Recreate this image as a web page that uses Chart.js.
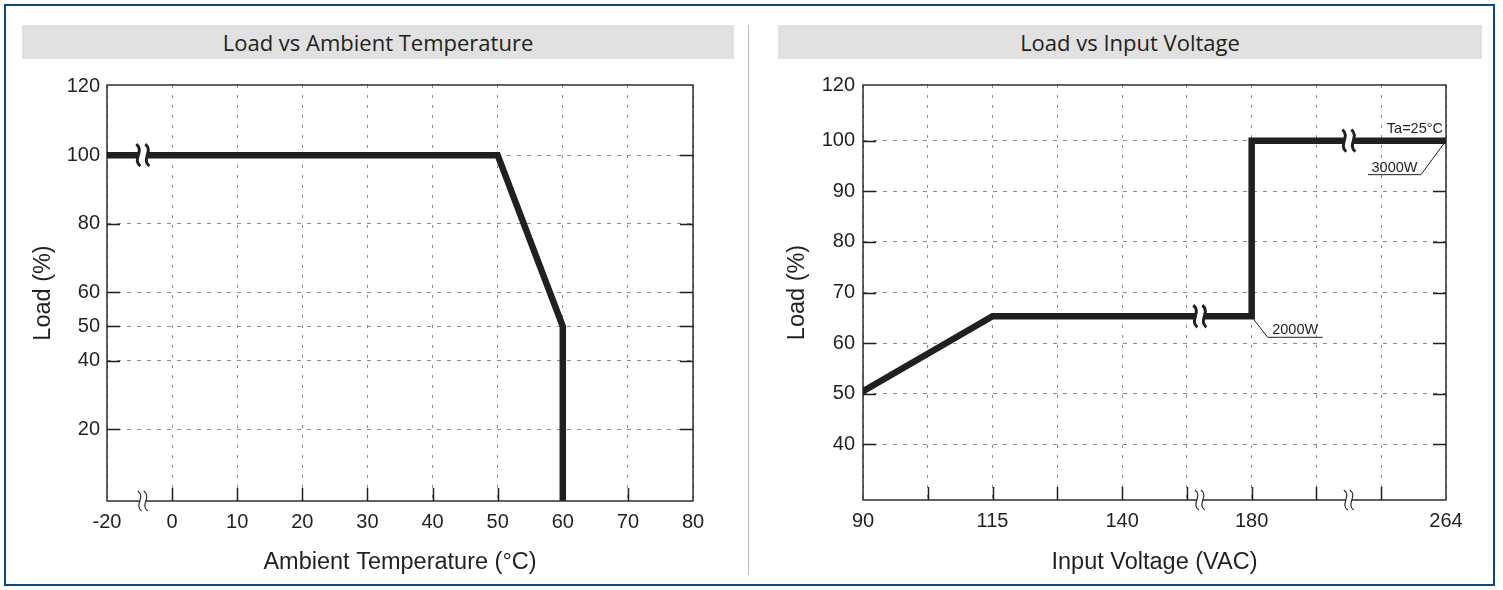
<!DOCTYPE html>
<html>
<head>
<meta charset="utf-8">
<title>Load derating curves</title>
<script src="https://cdn.jsdelivr.net/npm/chart.js@4.4.0/dist/chart.umd.min.js"></script>
<style>
    html, body { margin: 0; padding: 0; background: #fff; }
    body { width: 1503px; height: 590px; position: relative; overflow: hidden; }
    .frame { position: absolute; left: 4px; top: 4px; width: 1487px; height: 578px; border: 2px solid #0b4a7d; }
    .divider { position: absolute; left: 748px; top: 25px; width: 1px; height: 550px; background: #b8b8b8; }
    .title-bar {
        position: absolute; top: 25px; height: 34px; line-height: 34px;
        background: #e1e1e1; text-align: center; color: #231f20;
        font-family: 'Open Sans', sans-serif; font-size: 22px;
    }
    .chart-box { position: absolute; top: 60px; height: 530px; }
    canvas { display: block; }
</style>
</head>
<body>
<div class="frame"></div>
<div class="divider"></div>
<div class="title-bar" style="left:22px;width:712px;">Load vs Ambient Temperature</div>
<div class="title-bar" style="left:778px;width:704px;">Load vs Input Voltage</div>
<div class="chart-box" style="left:0;width:748px;"><canvas id="tempChart" width="748" height="530"></canvas></div>
<div class="chart-box" style="left:749px;width:754px;"><canvas id="voltChart" width="754" height="530"></canvas></div>

<script>
// ===================================
// Data
// ===================================

// Load vs ambient temperature
const tempTickValues = [-20, 0, 10, 20, 30, 40, 50, 60, 70, 80];
const tempTickLabels = ['-20', '0', '10', '20', '30', '40', '50', '60', '70', '80'];
const tempLoadX = [-20, 50, 60, 60];
const tempLoadY = [100, 100, 50, 0];
const tempYTicks = [20, 40, 50, 60, 80, 100, 120];
const tempBreaks = [-9];

// Load vs input voltage
const voltTickValues = [90, 115, 140, 180, 264];
const voltTickLabels = ['90', '115', '140', '180', '264'];
const voltLoadX = [90, 115, 180, 180, 264];
const voltLoadY = [50.5, 65.3, 65.3, 100, 100];
const voltYTicks = [40, 50, 60, 70, 80, 90, 100, 120];
const voltBreaks = [164, 222];

// ===================================
// Helpers
// ===================================

const INK = '#231f20';
const GRID = '#8c8c8c';

Chart.defaults.font.family = "'Liberation Sans', Arial, sans-serif";
Chart.defaults.color = INK;

// broken axes: map a real value onto the evenly spaced axis slots
function piecewise(values, slots) {
    return v => {
        let i = 0;
        while (i < values.length - 2 && v > values[i + 1]) i++;
        const t = (v - values[i]) / (values[i + 1] - values[i]);
        return slots[i] + t * (slots[i + 1] - slots[i]);
    };
}

// y of the curve at a given x (first segment that contains it)
function curveAt(xs, ys, v) {
    for (let i = 0; i < xs.length - 1; i++) {
        if (xs[i + 1] !== xs[i] && v >= xs[i] && v <= xs[i + 1]) {
            return ys[i] + (v - xs[i]) / (xs[i + 1] - xs[i]) * (ys[i + 1] - ys[i]);
        }
    }
    return ys[ys.length - 1];
}

function squiggle(ctx, x, y, h, w) {
    ctx.beginPath();
    ctx.moveTo(x - w / 2, y - h / 2);
    ctx.bezierCurveTo(x + w * 1.6, y - h / 5, x - w * 1.6, y + h / 5, x + w / 2, y + h / 2);
    ctx.stroke();
}

function framePlugin(cfg) {
    return {
        id: 'frame',
        beforeDatasetsDraw(chart) {
            const { ctx, chartArea: a, scales: { x, y } } = chart;
            ctx.save();
            ctx.strokeStyle = INK;
            ctx.lineWidth = 1.5;
            ctx.beginPath();
            // short tick marks pointing into the plot
            x.ticks.forEach(t => {
                if (t.value <= x.min || t.value >= x.max) return;
                const px = Math.round(x.getPixelForValue(t.value)) + 0.5;
                ctx.moveTo(px, a.bottom);
                ctx.lineTo(px, a.bottom - 13);
            });
            y.ticks.forEach((t, i) => {
                if (i === y.ticks.length - 1) return;
                const py = Math.round(y.getPixelForValue(t.value)) + 0.5;
                ctx.moveTo(a.left, py);
                ctx.lineTo(a.left + 13, py);
                ctx.moveTo(a.right, py);
                ctx.lineTo(a.right - 13, py);
            });
            ctx.stroke();
            ctx.lineWidth = 1.4;
            ctx.strokeRect(a.left, a.top, a.right - a.left, a.bottom - a.top);
            ctx.restore();
        },
        afterDatasetsDraw(chart) {
            const { ctx, chartArea: a, scales: { x, y } } = chart;
            ctx.save();
            cfg.breaks.forEach(b => {
                const px = x.getPixelForValue(cfg.xPos(b));
                const py = y.getPixelForValue(cfg.yPos(curveAt(cfg.xs, cfg.ys, b)));
                ctx.fillStyle = '#fff';
                // gap in the curve
                ctx.fillRect(px - 4, py - 5, 8, 10);
                ctx.strokeStyle = INK;
                ctx.lineWidth = 3;
                squiggle(ctx, px - 4.5, py, 22, 4);
                squiggle(ctx, px + 4.5, py, 22, 4);
                // gap in the x axis
                ctx.fillRect(px - 3, a.bottom - 2, 6, 4);
                ctx.lineWidth = 1.1;
                squiggle(ctx, px - 3, a.bottom, 20, 4);
                squiggle(ctx, px + 3, a.bottom, 20, 4);
            });
            if (cfg.annotate) cfg.annotate(chart);
            ctx.restore();
        }
    };
}

function makeChart(canvasId, cfg) {
    const points = cfg.xs.map((v, i) => ({ x: cfg.xPos(v), y: cfg.yPos(cfg.ys[i]) }));
    const yTickPos = cfg.yTicks.map(cfg.yPos);
    const lastY = yTickPos.length - 1;

    return new Chart(document.getElementById(canvasId), {
        type: 'line',
        data: {
            datasets: [{
                data: points,
                borderColor: INK,
                borderWidth: 6.5,
                borderJoinStyle: 'miter',
                borderCapStyle: 'square',
                pointRadius: 0,
                tension: 0,
                fill: false,
                clip: 0
            }]
        },
        options: {
            responsive: false,
            animation: false,
            events: [],
            layout: { padding: cfg.padding },
            plugins: {
                legend: { display: false },
                tooltip: { enabled: false }
            },
            scales: {
                x: {
                    type: 'linear',
                    min: 0,
                    max: 9,
                    afterBuildTicks: s => { s.ticks = [0, 1, 2, 3, 4, 5, 6, 7, 8, 9].map(v => ({ value: v })); },
                    afterFit: s => { s.height = 80; },
                    grid: { color: GRID, lineWidth: 1, drawTicks: false },
                    border: { display: false, dash: [3, 7] },
                    ticks: {
                        autoSkip: false,
                        maxRotation: 0,
                        padding: cfg.xTickPad,
                        font: { size: 20 },
                        color: INK,
                        callback: v => cfg.xLabel(v)
                    },
                    title: {
                        display: true,
                        text: cfg.xTitle,
                        font: { size: 23.5 },
                        color: INK,
                        padding: { top: 0, bottom: cfg.xTitlePad }
                    }
                },
                y: {
                    type: 'linear',
                    min: cfg.yMin,
                    max: cfg.yMax,
                    afterBuildTicks: s => { s.ticks = yTickPos.map(v => ({ value: v })); },
                    afterFit: s => { s.width = cfg.yWidth; },
                    grid: {
                        color: c => (c.index === lastY ? 'rgba(0,0,0,0)' : GRID),
                        lineWidth: 1,
                        drawTicks: false
                    },
                    border: { display: false, dash: [4, 6] },
                    ticks: {
                        autoSkip: false,
                        padding: cfg.yTickPad,
                        font: { size: 20 },
                        color: INK,
                        callback: v => {
                            const i = yTickPos.findIndex(p => Math.abs(p - v) < 1e-6);
                            return i < 0 ? '' : String(cfg.yTicks[i]);
                        }
                    },
                    title: {
                        display: true,
                        text: 'Load (%)',
                        font: { size: 23.5 },
                        color: INK,
                        padding: { top: cfg.yTitlePad, bottom: 0 }
                    }
                }
            }
        },
        plugins: [framePlugin(cfg)]
    });
}

// ===================================
// Left: load vs ambient temperature
// ===================================

const tempSlots = tempTickValues.map((v, i) => i);
const tempPos = piecewise(tempTickValues, tempSlots);

makeChart('tempChart', {
    xs: tempLoadX,
    ys: tempLoadY,
    xPos: tempPos,
    yPos: v => v,
    xLabel: v => {
        const i = tempSlots.indexOf(Math.round(v));
        return i < 0 ? '' : tempTickLabels[i];
    },
    yTicks: tempYTicks,
    yMin: -1,
    yMax: 120.5,
    breaks: tempBreaks,
    padding: { left: 0, top: 25, right: 55, bottom: 9 },
    yWidth: 107,
    yTickPad: 7,
    yTitlePad: 29,
    xTickPad: 9,
    xTitlePad: 4,
    xTitle: 'Ambient Temperature (°C)'
});

// ===================================
// Right: load vs input voltage
// ===================================

const voltSlots = [0, 2, 4, 6, 9];
const voltPos = piecewise(voltTickValues, voltSlots);
// the 100-120 % band is drawn compressed
const loadPosV = piecewise(voltYTicks, [40, 50, 60, 70, 80, 90, 100, 111]);

function leader(ctx, x0, y0, dx, dy, len, text) {
    const x1 = x0 + dx, y1 = y0 + dy;
    const x2 = dx < 0 ? x1 - len : x1 + len;
    ctx.beginPath();
    ctx.moveTo(x0, y0);
    ctx.lineTo(x1, y1);
    ctx.lineTo(x2, y1);
    ctx.stroke();
    ctx.textAlign = 'center';
    ctx.fillText(text, (x1 + x2) / 2, y1 - 3);
}

makeChart('voltChart', {
    xs: voltLoadX,
    ys: voltLoadY,
    xPos: voltPos,
    yPos: loadPosV,
    xLabel: v => {
        const i = voltSlots.indexOf(Math.round(v));
        return i < 0 ? '' : voltTickLabels[i];
    },
    yTicks: voltYTicks,
    yMin: 29,
    yMax: loadPosV(120),
    breaks: voltBreaks,
    padding: { left: 0, top: 25, right: 57, bottom: 10 },
    yWidth: 114,
    yTickPad: 8,
    yTitlePad: 34,
    xTickPad: 9,
    xTitlePad: 3,
    xTitle: 'Input Voltage (VAC)',
    annotate(chart) {
        const { ctx, scales: { x, y } } = chart;
        const n = voltLoadX.length - 1;
        const endX = x.getPixelForValue(voltPos(voltLoadX[n]));
        const endY = y.getPixelForValue(loadPosV(voltLoadY[n]));
        const stepX = x.getPixelForValue(voltPos(voltLoadX[2]));
        const stepY = y.getPixelForValue(loadPosV(voltLoadY[2]));

        ctx.fillStyle = INK;
        ctx.strokeStyle = INK;
        ctx.lineWidth = 1;
        ctx.font = "14.5px 'Liberation Sans', Arial, sans-serif";
        ctx.textBaseline = 'alphabetic';
        ctx.textAlign = 'right';
        ctx.fillText('Ta=25°C', endX - 3, endY - 8);
        leader(ctx, endX, endY, -25, 34, 53, '3000W');
        leader(ctx, stepX + 2, stepY + 3, 14, 18, 55, '2000W');
    }
});
</script>
</body>
</html>
